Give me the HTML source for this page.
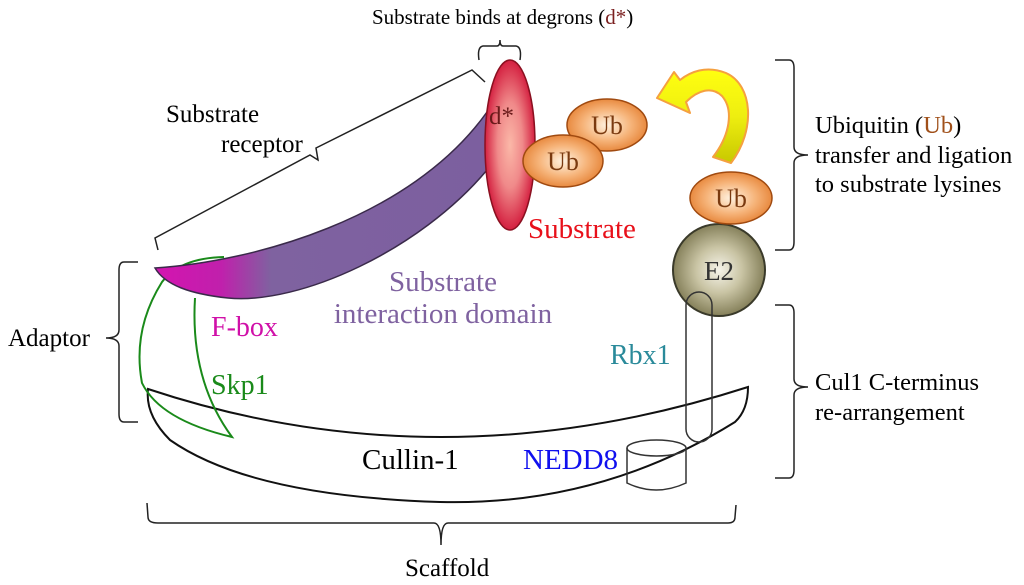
<!DOCTYPE html>
<html><head><meta charset="utf-8"><style>
html,body{margin:0;padding:0;background:#fff;}
svg{display:block;}
text{font-family:"Liberation Serif",serif;}
</style></head><body>
<svg width="1024" height="585" viewBox="0 0 1024 585" xmlns="http://www.w3.org/2000/svg">
<defs>
<linearGradient id="rec" x1="155" y1="0" x2="487" y2="0" gradientUnits="userSpaceOnUse">
<stop offset="0" stop-color="#d414b0"/><stop offset="0.2" stop-color="#c020ac"/><stop offset="0.35" stop-color="#7f62a0"/><stop offset="1" stop-color="#7c5f9f"/>
</linearGradient>
<radialGradient id="sub" cx="0.5" cy="0.5" r="0.5">
<stop offset="0" stop-color="#fbb8a8"/><stop offset="0.5" stop-color="#f08a8a"/><stop offset="1" stop-color="#d42040"/>
</radialGradient>
<radialGradient id="ub" cx="0.5" cy="0.5" r="0.5">
<stop offset="0" stop-color="#fff2e0"/><stop offset="0.6" stop-color="#f6b47a"/><stop offset="1" stop-color="#e88a40"/>
</radialGradient>
<radialGradient id="e2" cx="0.5" cy="0.5" r="0.5">
<stop offset="0" stop-color="#f6f4ea"/><stop offset="0.5" stop-color="#c9c4a4"/><stop offset="1" stop-color="#85805a"/>
</radialGradient>
<linearGradient id="arr" x1="0" y1="0" x2="0" y2="1">
<stop offset="0" stop-color="#ffff10"/><stop offset="0.5" stop-color="#eeee10"/><stop offset="1" stop-color="#c8c800"/>
</linearGradient>
</defs>

<!-- Cullin -->
<path d="M148,389 Q440,486 748,387 Q748,410 735,422 Q600,506 440,502 Q250,496 170,440 Q145,415 148,389 Z" fill="none" stroke="#111" stroke-width="2"/>
<!-- NEDD8 cylinder -->
<path d="M627,448 L627,483 Q656,497 686,483 L686,448" fill="none" stroke="#333" stroke-width="1.5"/>
<ellipse cx="656.5" cy="448" rx="29.5" ry="8" fill="none" stroke="#333" stroke-width="1.5"/>

<!-- Skp1 -->
<path d="M224,257 Q180,258 162,282 Q132,330 142,383 Q160,420 232,437 Q190,380 195,298" fill="none" stroke="#1a8a1a" stroke-width="2"/>
<!-- receptor -->
<path d="M155,268 C250,262 410,220 487,112 L487,170 C420,250 300,305 228,298 C190,294 165,285 155,268 Z" fill="url(#rec)" stroke="#3a2a4a" stroke-width="1.5"/>

<!-- E2 -->
<circle cx="719" cy="270" r="46" fill="url(#e2)" stroke="#3a3a2a" stroke-width="2"/>
<!-- Rbx1 capsule -->
<rect x="686" y="292" width="26" height="150" rx="13" fill="none" stroke="#333" stroke-width="1.5"/>

<!-- Substrate -->
<ellipse cx="510" cy="145" rx="25" ry="85" fill="url(#sub)" stroke="#8a1020" stroke-width="1.5"/>
<ellipse cx="607" cy="125" rx="40" ry="26" fill="url(#ub)" stroke="#a04a10" stroke-width="1.5"/>
<ellipse cx="563" cy="161" rx="40" ry="26" fill="url(#ub)" stroke="#a04a10" stroke-width="1.5"/>
<ellipse cx="731" cy="198" rx="41" ry="26" fill="url(#ub)" stroke="#a04a10" stroke-width="1.5"/>

<!-- yellow arrow -->
<path d="M731,163 C756,130 753,85 726,73 C706,65 690,72 680,80 L674,72 L657,98 L690,113 L686,102 C698,90 712,86 722,96 C734,110 730,135 713,157 Z" fill="url(#arr)" stroke="#f5a040" stroke-width="2" stroke-linejoin="round"/>

<!-- brackets -->
<g fill="none" stroke="#222" stroke-width="1.5">
<path d="M479,60 Q477,47 483,46 L497,46 Q500,46 500,40 Q500,46 503,46 L516,46 Q522,47 520,60"/>
<path d="M158,250 L155,238 L310,155 L318,160 L316,148 L472,70 L485,82"/>
<path d="M138,262 L124,262 Q119,262 119,270 L119,330 Q119,338 106,338 Q119,338 119,346 L119,414 Q119,422 124,422 L138,422"/>
<path d="M775,60 L789,60 Q794,60 794,68 L794,147 Q794,155 808,155 Q794,155 794,163 L794,242 Q794,250 789,250 L775,250"/>
<path d="M775,305 L789,305 Q794,305 794,313 L794,379 Q794,387 808,387 Q794,387 794,395 L794,470 Q794,478 789,478 L775,478"/>
<path d="M147,503 L148,517 Q148,523 158,523 L434,523 Q441,523 441,545 Q441,523 448,523 L728,523 Q735,523 735,517 L736,505"/>
</g>

<!-- text -->
<g>
<text x="372" y="24" font-size="21">Substrate binds at degrons (<tspan fill="#7a1f1f">d*</tspan>)</text>
<text x="166" y="122" font-size="25">Substrate</text>
<text x="221" y="152" font-size="25">receptor</text>
<text x="489" y="124" fill="#6a1a1a" font-size="25">d*</text>
<text x="607" y="134" fill="#7a3a10" font-size="26" text-anchor="middle">Ub</text>
<text x="563" y="170" fill="#7a3a10" font-size="26" text-anchor="middle">Ub</text>
<text x="731" y="207" fill="#7a3a10" font-size="26" text-anchor="middle">Ub</text>
<text x="719" y="280" fill="#333" font-size="27" text-anchor="middle">E2</text>
<text x="528" y="238" fill="#e8101a" font-size="29">Substrate</text>
<text x="443" y="291" fill="#7f62a0" font-size="29" text-anchor="middle">Substrate</text>
<text x="443" y="323" fill="#7f62a0" font-size="29" text-anchor="middle">interaction domain</text>
<text x="211" y="336" fill="#d010a8" font-size="28">F-box</text>
<text x="211" y="394" fill="#1a8a1a" font-size="28">Skp1</text>
<text x="610" y="364" fill="#2a8a9a" font-size="28">Rbx1</text>
<text x="362" y="469" fill="#000" font-size="29">Cullin-1</text>
<text x="523" y="469" fill="#1010ee" font-size="29">NEDD8</text>
<text x="8" y="346" font-size="25">Adaptor</text>
<text x="405" y="576" font-size="25">Scaffold</text>
<text x="815" y="133" font-size="24.5">Ubiquitin (<tspan fill="#a0501a">Ub</tspan>)</text>
<text x="815" y="163" font-size="24.5">transfer and ligation</text>
<text x="815" y="192" font-size="24.5">to substrate lysines</text>
<text x="815" y="390" font-size="24.5">Cul1 C-terminus</text>
<text x="815" y="420" font-size="24.5">re-arrangement</text>
</g>
</svg>
</body></html>
